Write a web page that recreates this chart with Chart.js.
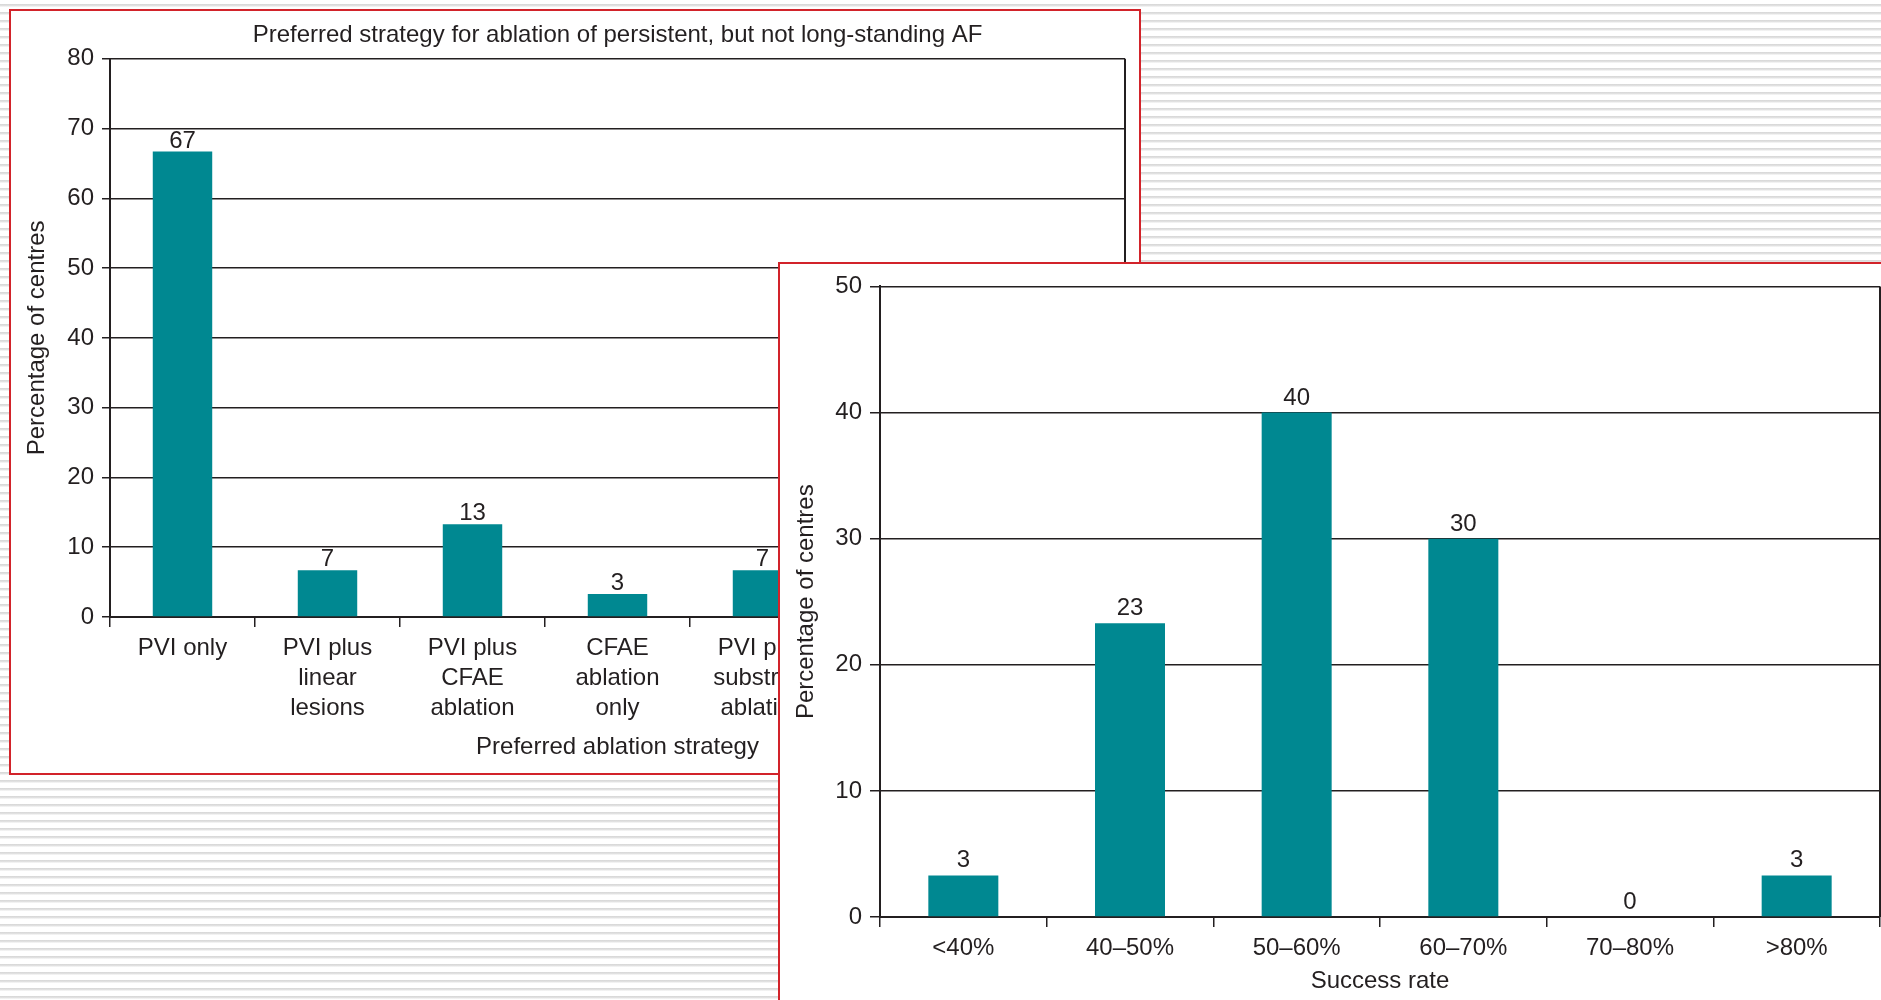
<!DOCTYPE html>
<html lang="en">
<head>
<meta charset="UTF-8" />
<title>AF ablation survey</title>
<script src="https://cdn.jsdelivr.net/npm/chart.js@4"></script>
<style>
  html, body { margin: 0; padding: 0; }
  body {
    width: 1881px;
    height: 1000px;
    overflow: hidden;
    position: relative;
    background: #fff repeating-linear-gradient(to bottom, #fff 0, #fff 4px, #d6d6d6 4px, #e4e4e4 6px, #fff 7px, #fff 8px);
  }
  .panel {
    position: absolute;
    background: #fff;
    border: 2px solid #d2232a;
  }
  #panel1 { left: 9px; top: 9px; width: 1128px; height: 762px; }
  #panel2 { left: 778px; top: 262px; width: 1200px; height: 800px; }
  .wrap { position: absolute; left: 0; top: 0; }
  #panel1 .wrap { width: 1128px; height: 762px; }
  #panel2 .wrap { width: 1110px; height: 736px; }
</style>
</head>
<body>
  <div class="panel" id="panel1"><div class="wrap"><canvas id="strategyChart"></canvas></div></div>
  <div class="panel" id="panel2"><div class="wrap"><canvas id="successChart"></canvas></div></div>

<script>
  // left panel: preferred strategy (last two categories sit under the right panel)
  const strategyLabels = [
    ['PVI only'],
    ['PVI plus', 'linear', 'lesions'],
    ['PVI plus', 'CFAE', 'ablation'],
    ['CFAE', 'ablation', 'only'],
    ['PVI plus', 'substrate', 'ablation'],
    ['Stepwise', 'approach'],
    ['Other']
  ]
  const strategyValues = [66.7, 6.7, 13.3, 3.3, 6.7, 3.3, 0]

  // right panel: success rate
  const successLabels = ['<40%', '40–50%', '50–60%', '60–70%', '70–80%', '>80%']
  const successValues = [3.3, 23.3, 40, 30, 0, 3.3]

  const ink = '#231f20'
  const teal = '#008891'
  const fontFamily = '"Liberation Sans", Arial, Helvetica, sans-serif'

  Chart.defaults.font.family = fontFamily
  Chart.defaults.font.size = 24
  Chart.defaults.color = ink

  const valueLabels = {
    id: 'valueLabels',
    afterDatasetsDraw(chart, args, opts) {
      const ctx = chart.ctx
      const data = chart.data.datasets[0].data
      ctx.save()
      ctx.font = '24px ' + fontFamily
      ctx.fillStyle = ink
      ctx.textAlign = 'center'
      ctx.textBaseline = 'alphabetic'
      chart.getDatasetMeta(0).data.forEach((bar, i) => {
        ctx.fillText(String(Math.round(data[i])), bar.x, bar.y - opts.gap)
      })
      ctx.restore()
    }
  }

  const rightFrame = {
    id: 'rightFrame',
    beforeDatasetsDraw(chart) {
      const { ctx, chartArea } = chart
      ctx.save()
      ctx.strokeStyle = ink
      ctx.lineWidth = 2
      ctx.beginPath()
      ctx.moveTo(chartArea.right, chartArea.top)
      ctx.lineTo(chartArea.right, chartArea.bottom)
      ctx.stroke()
      ctx.restore()
    }
  }

  function makeOptions(cfg) {
    return {
      responsive: true,
      maintainAspectRatio: false,
      animation: false,
      layout: { padding: { left: 0, right: cfg.padRight, top: cfg.padTop, bottom: 0 } },
      plugins: {
        legend: { display: false },
        tooltip: { enabled: false },
        title: cfg.title
          ? { display: true, fullSize: false, text: cfg.title, color: ink, font: { size: 24, weight: 'normal' }, padding: { top: 10, bottom: 9 } }
          : { display: false },
        valueLabels: { gap: cfg.gap }
      },
      scales: {
        x: {
          grid: { offset: true, drawOnChartArea: false, drawTicks: true, tickLength: 10, color: ink, lineWidth: 1.5 },
          border: { color: ink, width: 2 },
          ticks: { color: ink, padding: 6, maxRotation: 0, autoSkip: false, font: { size: 24, lineHeight: 1.25 } },
          title: { display: true, text: cfg.xTitle, color: ink, font: { size: 24 }, padding: { top: 0, bottom: cfg.xTitlePad } },
          afterFit(scale) { scale.height = cfg.xHeight }
        },
        y: {
          min: 0,
          max: cfg.yMax,
          grid: { color: ink, lineWidth: 1.5, tickLength: cfg.yTick },
          border: { color: ink, width: 2 },
          ticks: { stepSize: 10, padding: 8, color: ink, font: { size: 24 } },
          title: { display: true, text: 'Percentage of centres', color: ink, font: { size: 24 }, padding: { top: 12, bottom: 0 } },
          afterFit(scale) { scale.width = cfg.yWidth }
        }
      }
    }
  }

  new Chart(document.getElementById('strategyChart'), {
    type: 'bar',
    data: {
      labels: strategyLabels,
      datasets: [{
        data: strategyValues,
        backgroundColor: teal,
        barPercentage: 0.41,
        categoryPercentage: 1
      }]
    },
    options: makeOptions({
      title: 'Preferred strategy for ablation of persistent, but not long-standing AF',
      xTitle: 'Preferred ablation strategy',
      yMax: 80, yWidth: 99, xHeight: 156, padRight: 14, padTop: 0,
      yTick: 8, gap: 4, xTitlePad: 11.6
    }),
    plugins: [valueLabels, rightFrame]
  })

  new Chart(document.getElementById('successChart'), {
    type: 'bar',
    data: {
      labels: successLabels,
      datasets: [{
        data: successValues,
        backgroundColor: teal,
        barPercentage: 0.42,
        categoryPercentage: 1
      }]
    },
    options: makeOptions({
      title: null,
      xTitle: 'Success rate',
      yMax: 50, yWidth: 100, xHeight: 83, padRight: 10, padTop: 22,
      yTick: 10, gap: 8, xTitlePad: 4.6
    }),
    plugins: [valueLabels, rightFrame]
  })
</script>
</body>
</html>
